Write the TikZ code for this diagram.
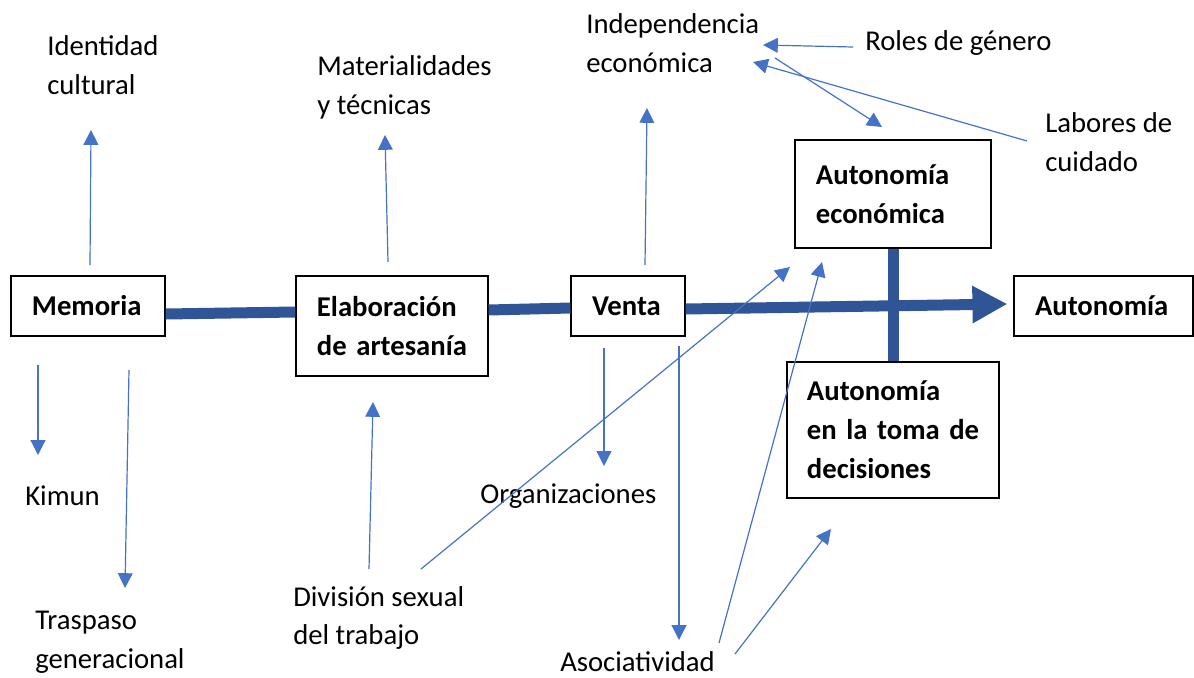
\documentclass[tikz,border=0pt]{standalone}
\usepackage{fontspec}
\setmainfont{Carlito}
\usetikzlibrary{arrows.meta}
\definecolor{barblue}{HTML}{2F5597}
\definecolor{linkblue}{HTML}{4472C4}
\begin{document}
\begin{tikzpicture}[x=0.025cm,y=-0.025cm]

\tikzset{mybox/.style={draw,line width=0.8pt,fill=white,font=\bfseries,align=left,inner xsep=0.525cm,inner ysep=0pt},}
\tikzset{mytext/.style={anchor=west,align=left,inner sep=0pt},}
\tikzset{bar/.style={barblue,line width=0.275cm},}
\tikzset{link/.style={linkblue,line width=0.85pt,-{Triangle[length=0.37cm,width=0.37cm]}},}

\useasboundingbox (0,0) rectangle (1194,677);
\fontsize{20.4pt}{27.7pt}\selectfont

%CAJAS
\node[mybox,text width=2.8cm,minimum height=1.5cm] (mem) at (88,306) {Memoria};
\node[mybox,text width=3.75cm,minimum height=2.5cm] (elab) at (392,326) {Elaboración\\de~artesanía};
\node[mybox,text width=1.8cm,minimum height=1.5cm] (venta) at (628,306) {Venta};
\node[mybox,text width=3.85cm,minimum height=2.7cm] (autEco) at (893,194) {Autonomía\\económica\\[2pt]};
\node[mybox,text width=3.425cm,minimum height=1.5cm] (aut) at (1103.5,306) {Autonomía};
\node[mybox,inner xsep=0.5cm,text width=4.3cm,minimum height=3.4cm] (autDec) at (893,430) {Autonomía\\en~la~toma~de\\decisiones};

%TEXTOS
\node[mytext] (ident) at (47,65) {Identidad\\cultural};
\node[mytext] (mat) at (317,87) {Materialidades\\y técnicas};
\node[mytext] (indep) at (586,43) {Independencia\\económica};
\node[mytext] (roles) at (865,43) {Roles de género};
\node[mytext] (lab) at (1045,142) {Labores de\\cuidado};
\node[mytext] (kimun) at (25,496) {Kimun};
\node[mytext] (trasp) at (35,642) {Traspaso\\generacional};
\node[mytext] (div) at (293,618) {División sexual\\del trabajo};
\node[mytext] (org) at (480,496) {Organizaciones};
\node[mytext] (asoc) at (560,662) {Asociatividad};

%EJE
\draw[bar] ([yshift=-0.2cm]mem.east) -- ([yshift=0.35cm]elab.west);
\draw[bar] ([yshift=0.4cm]elab.east) -- ([yshift=-0.05cm]venta.west);
\draw[bar,-{Triangle[length=0.875cm,width=0.875cm]}] ([yshift=-0.075cm]venta.east) -- ([xshift=-0.15cm,yshift=0.05cm]aut.west);
\draw[bar] (autEco.south) -- (autDec.north);

%FLECHAS
\coordinate (p1) at (90,265);   \coordinate (q1) at (91,130);
\coordinate (p2) at (388,262);  \coordinate (q2) at (385,135);
\coordinate (p3) at (645,265);  \coordinate (q3) at (647,108);
\coordinate (p4) at (38,365);   \coordinate (q4) at (38,455);
\coordinate (p5) at (129,370);  \coordinate (q5) at (125,588);
\coordinate (p6) at (604,348);  \coordinate (q6) at (604,466);
\coordinate (p7) at (679,346);  \coordinate (q7) at (679,640);
\coordinate (p8) at (369,569);  \coordinate (q8) at (373,402);
\coordinate (p9) at (421,569);  \coordinate (q9) at (790,267);
\coordinate (p10) at (719,643); \coordinate (q10) at (822,262);
\coordinate (p11) at (735,654); \coordinate (q11) at (831,529);
\coordinate (p12) at (853,47);  \coordinate (q12) at (763,45);
\coordinate (p13) at (775,58);  \coordinate (q13) at (882,127);
\coordinate (p14) at (1027,141);\coordinate (q14) at (753,62);

\foreach \i in {1,...,14}
  \draw[link] (p\i) -- (q\i);

\end{tikzpicture}
\end{document}
